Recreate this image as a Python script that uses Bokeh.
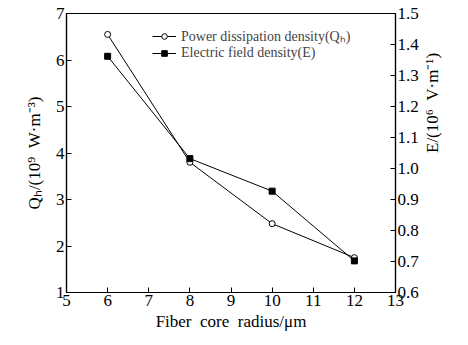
import math
from bokeh.plotting import figure
from bokeh.models import Range1d, LinearAxis, FixedTicker, Legend, LegendItem
from bokeh.embed import file_html
from bokeh.resources import INLINE

radius = [6, 8, 10, 12]
q_h = [6.55, 3.80, 2.48, 1.75]
e_field = [1.362, 1.032, 0.927, 0.702]

x_ticks = [5, 6, 7, 8, 9, 10, 11, 12, 13]
q_ticks = [1, 2, 3, 4, 5, 6, 7]
e_ticks = [0.6, 0.7, 0.8, 0.9, 1.0, 1.1, 1.2, 1.3, 1.4, 1.5]

FONT = "Liberation Serif"

p = figure(width=454, height=333, output_backend="svg", toolbar_location=None,
           x_range=Range1d(5, 13), y_range=Range1d(1, 7),
           min_border_left=66, min_border_right=58, min_border_top=13, min_border_bottom=40)
p.extra_y_ranges = {"e": Range1d(0.6, 1.5)}
p.grid.visible = False
p.outline_line_color = "black"
p.outline_line_width = 1.2
p.background_fill_color = "white"
p.border_fill_color = "white"

def style(ax):
    ax.major_tick_in = 5
    ax.major_tick_out = 0
    ax.minor_tick_in = 0
    ax.minor_tick_out = 0
    ax.axis_line_color = "black"
    ax.axis_line_width = 1.2
    ax.major_tick_line_color = "black"
    ax.major_label_text_font = FONT
    ax.major_label_text_font_size = "17px"
    ax.major_label_text_color = "black"
    ax.axis_label_text_font = FONT
    ax.axis_label_text_font_size = "17px"
    ax.axis_label_text_font_style = "normal"
    ax.axis_label_text_color = "black"
    ax.major_label_standoff = 2

p.xaxis.ticker = FixedTicker(ticks=x_ticks)
p.xaxis.axis_label = "Fiber\u2002core\u2002radius/\u03bcm"
p.xaxis.axis_label_standoff = 3
style(p.xaxis[0])

p.yaxis.ticker = FixedTicker(ticks=q_ticks)
p.yaxis.axis_label = "Q\u2095/(10\u2079\u2002W\u00b7m\u207b\u00b3)"
style(p.yaxis[0])
p.yaxis.axis_label_standoff = 9

ax_r = LinearAxis(y_range_name="e", ticker=FixedTicker(ticks=e_ticks),
                  axis_label="E/(10\u2076\u2002V\u00b7m\u207b\u00b9)")
ax_r.major_label_overrides = {v: f"{v:.1f}" for v in e_ticks}
style(ax_r)
ax_r.axis_label_standoff = 11
ax_r.axis_label_orientation = math.pi / 2
p.add_layout(ax_r, "right")

l1 = p.line(radius, q_h, line_color="black", line_width=1)
m1 = p.scatter(radius, q_h, marker="circle", size=6, fill_color="white", line_color="black", line_width=1)
l2 = p.line(radius, e_field, y_range_name="e", line_color="black", line_width=1)
m2 = p.scatter(radius, e_field, y_range_name="e", marker="square", size=6, fill_color="black", line_color="black")

legend = Legend(items=[
    LegendItem(label="Power dissipation density(Q\u2095)", renderers=[l1, m1]),
    LegendItem(label="Electric field density(E)", renderers=[l2, m2]),
], location=(86, 231))
legend.border_line_color = None
legend.background_fill_alpha = 0
legend.label_text_font = FONT
legend.label_text_font_size = "14px"
legend.glyph_width = 24
legend.glyph_height = 14
legend.label_height = 14
legend.spacing = 0
legend.padding = 4
legend.margin = 0
legend.label_standoff = 5
p.add_layout(legend)

open("out.html", "w").write(file_html(p, INLINE))
